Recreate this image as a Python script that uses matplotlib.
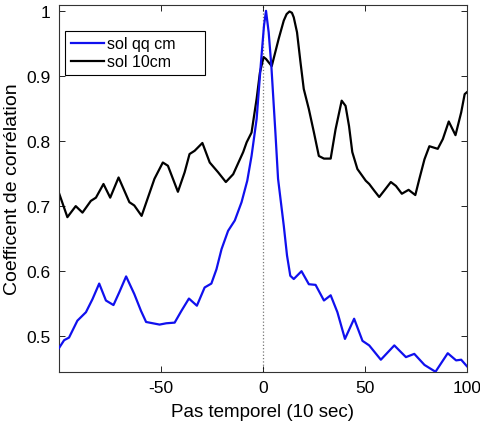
import numpy as np
import matplotlib
matplotlib.use("Agg")
import matplotlib.pyplot as plt
from matplotlib.ticker import FuncFormatter

plt.rcParams['font.family'] = ['Liberation Sans', 'DejaVu Sans']
plt.rcParams['axes.unicode_minus'] = False

# sol 10cm (black)
lag_black = [-100, -95.9, -91.8, -88.5, -84.4, -81.9, -78.2, -74.9, -70.8, -65.5,
             -63.1, -59.5, -53.2, -49.1, -46.6, -41.7, -38.4, -36, -33.5, -29.7,
             -26.1, -22, -18.2, -14.6, -9.7, -8, -5.6, -3.1, -1.5, 0.3, 1.5, 4.3,
             7.7, 10.2, 11.6, 13, 14.2, 15.1, 16.7, 18.4, 20, 22.5, 25, 27.4, 29.9, 33.2,
             35.6, 38.6, 40.5, 42.2, 43.8, 46.3, 50.4, 52.1, 54.5, 57, 59.5,
             62.7, 65.2, 68.1, 71.4, 74.7, 76.7, 79.2, 81.6, 85.7, 88.2, 91.1,
             94.4, 97.2, 98.9, 100]
corr_black = [0.720, 0.683, 0.700, 0.690, 0.708, 0.713, 0.734, 0.713, 0.744, 0.706,
              0.701, 0.685, 0.742, 0.767, 0.762, 0.722, 0.752, 0.780, 0.785, 0.797,
              0.767, 0.752, 0.737, 0.749, 0.783, 0.798, 0.813, 0.865, 0.905, 0.929, 0.926, 0.915,
              0.957, 0.985, 0.995, 0.999, 0.997, 0.990, 0.967, 0.921, 0.880, 0.849, 0.813, 0.777,
              0.773, 0.773, 0.818, 0.862, 0.854, 0.823, 0.783, 0.757, 0.739, 0.734,
              0.724, 0.714, 0.724, 0.737, 0.731, 0.719, 0.725, 0.717, 0.742, 0.772,
              0.792, 0.788, 0.803, 0.830, 0.809, 0.844, 0.872, 0.875]

# sol qq cm (blue)
lag_blue = [-100, -97.5, -95.1, -91, -86.8, -83.6, -80.3, -77, -73.3, -70.4,
            -67.1, -63.1, -59.8, -57.3, -54, -50.7, -47.4, -43.3, -40, -36.3,
            -32.4, -28.6, -25.3, -22.8, -20.3, -17.1, -13.8, -10.5, -7.7, -5.6,
            -3.1, -1.1, 0.5, 1.5, 2.8, 4.1, 6.1, 7.4, 10.2, 11.8, 13.4, 15.1,
            18.9, 22.5, 25.8, 29.9, 33.2, 36.5, 40.2, 44.7, 48.8, 52.1, 57.8,
            64.4, 70.1, 74.2, 79.2, 84.6, 90.6, 94.7, 97.2, 100]
corr_blue = [0.482, 0.494, 0.498, 0.524, 0.537, 0.557, 0.581, 0.555, 0.548, 0.568,
             0.592, 0.565, 0.539, 0.522, 0.520, 0.518, 0.520, 0.521, 0.539, 0.558,
             0.547, 0.575, 0.581, 0.603, 0.634, 0.662, 0.678, 0.706, 0.739, 0.777,
             0.834, 0.916, 0.977, 1.000, 0.967, 0.916, 0.813, 0.742, 0.670, 0.624,
             0.593, 0.588, 0.600, 0.580, 0.579, 0.555, 0.563, 0.537, 0.496, 0.527,
             0.493, 0.486, 0.464, 0.486, 0.468, 0.473, 0.456, 0.4455, 0.474, 0.463,
             0.464, 0.454]

fig = plt.figure(figsize=(4.81, 4.27), dpi=100)
ax = fig.add_axes([0.1227, 0.127, 0.848, 0.859])

ax.axvline(0, color='#777777', ls=':', lw=0.9, zorder=1)
ax.plot(lag_blue, corr_blue, color='#1010ee', lw=1.6, label='sol qq cm', zorder=3,
        solid_joinstyle='round')
ax.plot(lag_black, corr_black, color='black', lw=1.6, label='sol 10cm', zorder=2,
        solid_joinstyle='round')

ax.set_xlim(-100, 100)
ax.set_ylim(0.4455, 1.009)
ax.set_xticks([-50, 0, 50, 100])
ax.set_yticks([0.5, 0.6, 0.7, 0.8, 0.9, 1.0])
ax.yaxis.set_major_formatter(FuncFormatter(lambda v, p: '1' if abs(v - 1) < 1e-9 else f'{v:.1f}'))
ax.tick_params(direction='in', top=True, right=True, labelsize=12.5, length=4, width=0.6, pad=6)
for s in ax.spines.values():
    s.set_linewidth(0.8)
    s.set_color('#333333')

ax.set_xlabel('Pas temporel (10 sec)', fontsize=13.5, labelpad=6)
ax.set_ylabel('Coefficent de corrélation', fontsize=14, labelpad=4)

# legend box stretched to the reference width
leg = ax.legend(loc='upper left', bbox_to_anchor=(0.015, 0.0, 0.343, 0.93), mode='expand',
                borderaxespad=0, fancybox=False, edgecolor='black', fontsize=11.5,
                handlelength=2.1, handletextpad=0.2, labelspacing=0.2, borderpad=0.35,
                framealpha=1)
leg.get_frame().set_linewidth(0.8)

fig.savefig('out.png', dpi=100)
